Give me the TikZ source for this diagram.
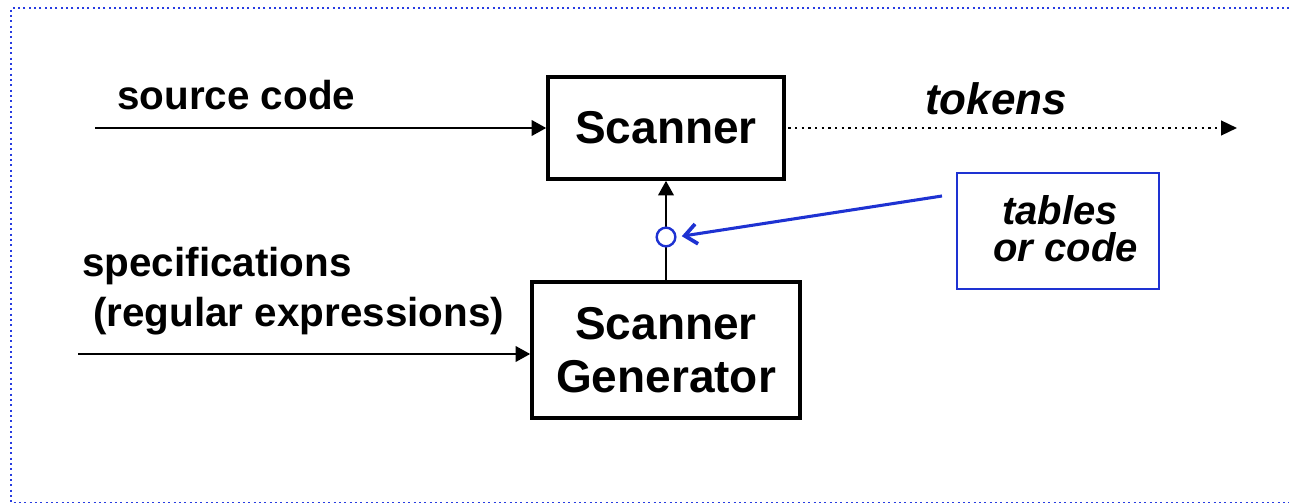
\documentclass[tikz,border=0pt]{standalone}
\usepackage{fontspec}
\setmainfont{Liberation Sans}
\usetikzlibrary{arrows.meta}
\definecolor{frameblue}{RGB}{40,60,225}
\definecolor{noteblue}{RGB}{30,50,210}
\begin{document}
\begin{tikzpicture}[x=0.75pt,y=-0.75pt,
  frame/.style={draw=frameblue, line width=1.4pt, dash pattern=on 1.4pt off 2.6pt},
  box/.style={draw, line width=2.6pt, inner sep=0pt, align=center,
    font=\fontsize{34.5}{39.75}\selectfont\bfseries},
  notebox/.style={draw=noteblue, line width=2.2pt, inner sep=0pt},
  lbl/.style={inner sep=0pt, anchor=base west, font=\fontsize{30.3}{36}\selectfont\bfseries},
  itlbl/.style={lbl, font=\fontsize{30}{36}\selectfont\bfseries\itshape},
  flow/.style={line width=2.1pt, -{Triangle[length=11pt,width=11.5pt]}},
  dotflow/.style={line width=1.8pt, dash pattern=on 1.8pt off 3.2pt,
    -{Triangle[length=12pt,width=11pt]}},
  note/.style={draw=noteblue, line width=2.3pt, -{Straight Barb[length=9pt,width=15pt,line width=2.8pt]}}
]
\useasboundingbox (0,0) rectangle (1289,503);
\clip (0,0) rectangle (1289,503);

% dotted page frame
\draw[frame] (1300,8) -- (11,8) -- (11,503) -- (1300,503);

% processing blocks
\node[box, minimum width=177pt, minimum height=76.5pt] (scan) at (666,128) {Scanner};
\node[box, minimum width=201pt, minimum height=102pt] (gen) at (666,350) {Scanner\\Generator};

% note box
\node[notebox, minimum width=151.5pt, minimum height=87pt] (tbl) at (1058,231) {};
\node[itlbl] (tblA) at (1002,224) {tables};
\node[itlbl] (tblB) at (993,261) {or code};

% input labels
\node[lbl] (src) at (117,109) {source code};
\node[lbl] (spec) at (82,276) {specifications};
\node[lbl] (regex) at (93,326) {(regular expressions)};
\node[itlbl, font=\fontsize{33}{40}\selectfont\bfseries\itshape] (tok) at (925,114) {tokens};

% connectors
\coordinate (srcin) at (95,128);
\coordinate (specin) at (78,354);
\coordinate (tokout) at (1237,128);
\coordinate (noteout) at (942,196);

\draw[flow] (srcin) -- (scan.west);
\draw[flow] (specin) -- (gen.west |- specin);
\draw[flow] (gen.north) -- (scan.south);
\draw[dotflow] ([xshift=2pt]scan.east) -- (tokout);

\node[circle, draw=noteblue, fill=white, line width=1.8pt, minimum size=14pt, inner sep=0pt] (tap) at (666,237) {};
\draw[note, shorten >=4pt] (noteout) -- (tap.east);
\end{tikzpicture}
\end{document}
